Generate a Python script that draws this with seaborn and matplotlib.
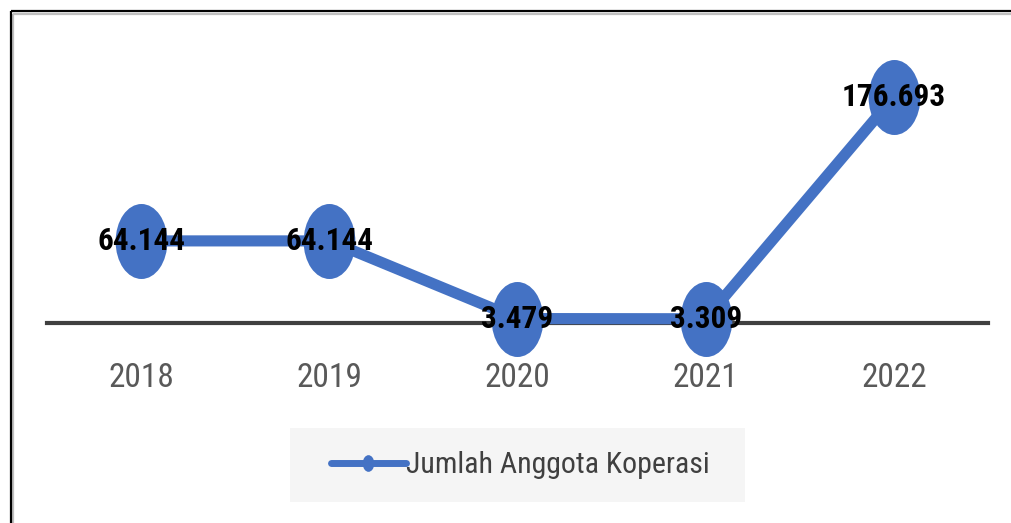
import matplotlib
matplotlib.use("Agg")
import matplotlib.pyplot as plt
from matplotlib import font_manager
from matplotlib.path import Path
from matplotlib.patches import Rectangle
from matplotlib.lines import Line2D
import seaborn as sns
import pandas as pd

years = ["2018", "2019", "2020", "2021", "2022"]
members = [64144, 64144, 3479, 3309, 176693]
series_name = "Jumlah Anggota Koperasi"

sns.set_theme(style="white")

available = {f.name for f in font_manager.fontManager.ttflist}
narrow = next((n for n in ["Roboto Condensed", "Liberation Sans Narrow", "Open Sans Condensed",
                           "Noto Sans", "DejaVu Sans"] if n in available), "DejaVu Sans")
plt.rcParams["font.family"] = [narrow, "DejaVu Sans"]

W, H = 1012, 523
fig = plt.figure(figsize=(W / 100, H / 100), dpi=100)
fig.patch.set_facecolor("white")

# legend panel, drawn underneath the axes
fig.patches.append(Rectangle((290 / W, 1 - 502 / H), (745 - 290) / W, (502 - 428) / H,
                             transform=fig.transFigure, facecolor="#F5F5F5", edgecolor="none",
                             zorder=-5))

ax = fig.add_axes([47 / W, 1 - 323 / H, (988 - 47) / W, (323 - 67) / H])
ax.set_facecolor("none")

df = pd.DataFrame({"Tahun": years, "Anggota": members})

# tall ellipse used as the point marker
ellipse = Path.unit_circle().transformed(matplotlib.transforms.Affine2D().scale(0.69, 1.0))

blue = "#4472C4"
sns.lineplot(data=df, x="Tahun", y="Anggota", ax=ax, color=blue, linewidth=8,
             marker=ellipse, markersize=54, markeredgewidth=0, markerfacecolor=blue,
             clip_on=False, legend=False)

ax.set_xlim(-0.5, len(years) - 0.5)
ax.set_ylim(0, 200000)
for s in ["top", "right", "left"]:
    ax.spines[s].set_visible(False)
ax.spines["bottom"].set_color("#404040")
ax.spines["bottom"].set_linewidth(3)
ax.spines["bottom"].set_zorder(1)
ax.set_yticks([])
ax.set_xlabel("")
ax.set_ylabel("")
ax.tick_params(axis="x", length=0, pad=28, labelsize=24, labelcolor="#595959")

for i, v in enumerate(members):
    label = f"{v:,}".replace(",", ".")
    ax.text(i, v, label, ha="center", va="center", fontsize=22.5, fontweight="bold",
            color="black", zorder=5, clip_on=False)

handle = Line2D([], [], color=blue, linewidth=5, marker=ellipse, markersize=12,
                markeredgewidth=0)
leg = ax.legend([handle], [series_name], loc="center", bbox_to_anchor=(520 / W, 1 - 465 / H),
                bbox_transform=fig.transFigure, frameon=False, fontsize=21.5, handlelength=2.5,
                handletextpad=0.0, labelcolor="#404040")

# outer frame: left and top edges with a soft inner shadow
for off, col in [(2.5, "#BFBFBF"), (0, "black")]:
    x0 = (11 + off) / W
    y0 = 1 - (11 + off) / H
    fig.add_artist(Line2D([x0, x0], [0, y0], transform=fig.transFigure, color=col,
                          linewidth=1.6, solid_capstyle="butt"))
    fig.add_artist(Line2D([x0, 1], [y0, y0], transform=fig.transFigure, color=col,
                          linewidth=1.6, solid_capstyle="butt"))

fig.savefig("out.png", dpi=100)
